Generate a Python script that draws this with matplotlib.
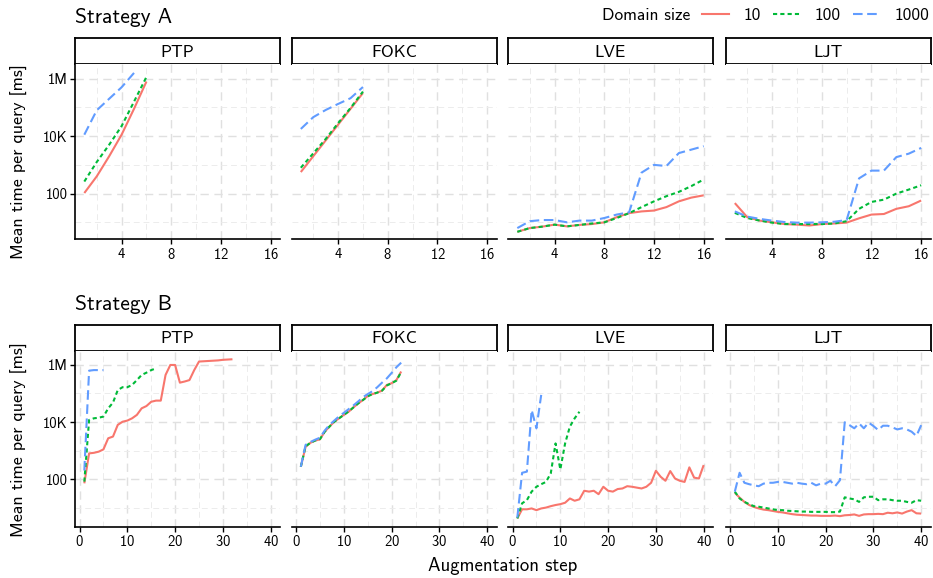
import numpy as np
import matplotlib
matplotlib.use('Agg')
import matplotlib.pyplot as plt
from matplotlib.lines import Line2D
from matplotlib.ticker import FixedLocator, NullFormatter

plt.rcParams['font.family'] = ['cmss10', 'DejaVu Sans']
plt.rcParams['axes.formatter.use_mathtext'] = True

W, H = 933, 578

algorithms = ['PTP', 'FOKC', 'LVE', 'LJT']
domain_sizes = ['10', '100', '1000']
colors = ['#F8766D', '#00BA38', '#619CFF']
styles = ['-', (0, (2.0, 1.5)), (0, (4.6, 2.2))]

ytick_vals = [1e2, 1e4, 1e6]
ytick_labels = ['100', '10K', '1M']

# log10 of mean time per query [ms]; index = augmentation step - 1
# Strategy A
a_ptp_10 = [2.02, 2.6, 3.3, 4.05, 4.95, 5.9]
a_ptp_100 = [2.42, 3.1, 3.7, 4.35, 5.2, 6.06]
a_ptp_1000 = [4.05, 4.9, 5.3, 5.7, 6.2]
a_fokc_10 = [2.75, 3.3, 3.85, 4.4, 4.95, 5.5]
a_fokc_100 = [2.9, 3.4, 3.9, 4.45, 4.98, 5.55]
a_fokc_1000 = [4.25, 4.66, 4.91, 5.12, 5.32, 5.71]
a_lve_10 = [0.67, 0.8, 0.85, 0.92, 0.86, 0.91, 0.94, 1.0, 1.18, 1.32, 1.38, 1.41, 1.53, 1.73, 1.86, 1.94]
a_lve_100 = [0.67, 0.8, 0.85, 0.92, 0.86, 0.91, 0.96, 1.0, 1.15, 1.32, 1.53, 1.73, 1.91, 2.06, 2.26, 2.49]
a_lve_1000 = [0.8, 1.04, 1.08, 1.08, 1.0, 1.06, 1.06, 1.15, 1.27, 1.35, 2.73, 3.0, 2.96, 3.41, 3.53, 3.65]
a_ljt_10 = [1.67, 1.18, 1.06, 1.0, 0.94, 0.92, 0.89, 0.94, 0.96, 0.99, 1.14, 1.27, 1.29, 1.47, 1.56, 1.76]
a_ljt_100 = [1.33, 1.15, 1.06, 0.99, 0.94, 0.94, 0.94, 0.94, 0.96, 1.04, 1.47, 1.71, 1.79, 2.0, 2.14, 2.29]
a_ljt_1000 = [1.38, 1.2, 1.12, 1.06, 1.01, 0.99, 0.99, 1.0, 1.02, 1.08, 2.53, 2.8, 2.8, 3.27, 3.39, 3.59]

# Strategy B
b_ptp_10 = [1.85, 2.9, 2.92, 2.96, 3.04, 3.43, 3.49, 3.9, 4.01, 4.05, 4.13, 4.25, 4.48, 4.56, 4.71, 4.75,
            4.75, 5.65, 6.0, 6.0, 5.38, 5.42, 5.47, 5.82, 6.12, 6.13, 6.14, 6.15, 6.16, 6.18, 6.19, 6.2]
b_ptp_100 = [1.91, 4.07, 4.13, 4.15, 4.19, 4.48, 4.68, 5.12, 5.22, 5.22, 5.3, 5.47, 5.65, 5.73, 5.82, 5.88]
b_ptp_1000 = [2.3, 5.8, 5.82, 5.82, 5.82]
b_fokc_10 = [2.43, 3.13, 3.27, 3.35, 3.39, 3.66, 3.84, 4.01, 4.13, 4.25, 4.36, 4.51, 4.65, 4.77, 4.91, 4.98,
             5.03, 5.1, 5.3, 5.36, 5.47, 5.77]
b_fokc_100 = [2.43, 3.15, 3.27, 3.35, 3.4, 3.66, 3.84, 4.01, 4.13, 4.25, 4.37, 4.51, 4.65, 4.77, 4.9, 4.98,
              5.03, 5.1, 5.28, 5.36, 5.45, 5.75]
b_fokc_1000 = [2.43, 3.2, 3.3, 3.38, 3.45, 3.7, 3.9, 4.05, 4.2, 4.32, 4.45, 4.58, 4.72, 4.87, 4.98, 5.08,
               5.22, 5.38, 5.53, 5.72, 5.92, 6.08]
b_lve_10 = [0.62, 0.94, 0.94, 0.97, 0.91, 0.97, 1.0, 1.05, 1.09, 1.12, 1.17, 1.32, 1.24, 1.29, 1.59, 1.56,
            1.59, 1.47, 1.73, 1.59, 1.56, 1.65, 1.67, 1.75, 1.73, 1.7, 1.67, 1.73, 1.87, 2.29, 2.08, 1.94,
            2.28, 2.02, 1.94, 1.9, 2.41, 2.05, 2.02, 2.49]
b_lve_100 = [0.62, 1.15, 1.26, 1.56, 1.73, 1.82, 1.9, 2.2, 3.25, 2.34, 3.25, 3.84, 4.13, 4.36]
b_lve_1000 = [0.65, 2.22, 2.26, 4.42, 3.78, 4.95]
b_ljt_10 = [1.52, 1.35, 1.2, 1.09, 1.02, 0.97, 0.93, 0.91, 0.88, 0.85, 0.83, 0.8, 0.77, 0.75, 0.74, 0.73,
            0.72, 0.72, 0.71, 0.71, 0.71, 0.72, 0.7, 0.73, 0.74, 0.76, 0.71, 0.76, 0.77, 0.77, 0.78, 0.77,
            0.82, 0.8, 0.83, 0.79, 0.86, 0.91, 0.8, 0.79]
b_ljt_100 = [1.56, 1.32, 1.2, 1.12, 1.05, 1.03, 1.0, 0.97, 0.94, 0.91, 0.91, 0.89, 0.88, 0.87, 0.86, 0.86,
             0.85, 0.85, 0.85, 0.85, 0.84, 0.84, 0.86, 1.36, 1.32, 1.29, 1.2, 1.36, 1.38, 1.38, 1.26, 1.29,
             1.29, 1.26, 1.24, 1.24, 1.2, 1.17, 1.26, 1.24]
b_ljt_1000 = [1.56, 2.22, 1.87, 1.82, 1.78, 1.75, 1.84, 1.87, 1.87, 1.9, 1.9, 1.87, 1.84, 1.87, 1.84, 1.82,
              1.87, 1.78, 1.84, 1.84, 1.94, 1.75, 1.96, 3.99, 3.89, 3.78, 3.95, 3.78, 3.98, 3.86, 3.72, 3.87,
              3.87, 3.81, 3.74, 3.78, 3.74, 3.66, 3.51, 3.89]

strategy_a = [[a_ptp_10, a_ptp_100, a_ptp_1000],
              [a_fokc_10, a_fokc_100, a_fokc_1000],
              [a_lve_10, a_lve_100, a_lve_1000],
              [a_ljt_10, a_ljt_100, a_ljt_1000]]
strategy_b = [[b_ptp_10, b_ptp_100, b_ptp_1000],
              [b_fokc_10, b_fokc_100, b_fokc_1000],
              [b_lve_10, b_lve_100, b_lve_1000],
              [b_ljt_10, b_ljt_100, b_ljt_1000]]

fig = plt.figure(figsize=(W / 100, H / 100), dpi=100)
fig.patch.set_facecolor('white')


def px_axes(x0, y0, x1, y1):
    return fig.add_axes([x0 / W, 1 - y1 / H, (x1 - x0) / W, (y1 - y0) / H])


def grid_style(ax):
    ax.grid(True, which='major', color='#e0e0e0', lw=1.0, ls=(0, (6, 4)))
    ax.grid(True, which='minor', color='#ececec', lw=0.7, ls=(0, (6, 4)))
    ax.set_axisbelow(True)


def draw_row(data, title, strip_top, panel_top, panel_bottom, xlim, xmajor, xminor, ylim):
    lefts = [75, 291.5, 508, 725.5]
    width = 205
    fig.text(75 / W, 1 - (strip_top - 21) / H, title, fontsize=15.5, ha='left', va='center')
    for i, name in enumerate(algorithms):
        x0 = lefts[i]
        strip = px_axes(x0, strip_top, x0 + width, panel_top)
        strip.set_xticks([])
        strip.set_yticks([])
        for s in strip.spines.values():
            s.set_linewidth(1.3)
        strip.text(0.5, 0.47, name, ha='center', va='center', fontsize=12.5, transform=strip.transAxes)

        ax = px_axes(x0, panel_top, x0 + width, panel_bottom)
        for j, vals in enumerate(data[i]):
            steps = np.arange(1, len(vals) + 1)
            ax.plot(steps, np.power(10.0, vals), color=colors[j], ls=styles[j], lw=1.5,
                    solid_capstyle='butt', dash_capstyle='butt')
        ax.set_yscale('log')
        ax.set_ylim(10 ** ylim[0], 10 ** ylim[1])
        ax.set_xlim(*xlim)
        ax.xaxis.set_major_locator(FixedLocator(xmajor))
        ax.xaxis.set_minor_locator(FixedLocator(xminor))
        ax.yaxis.set_major_locator(FixedLocator(ytick_vals))
        ax.yaxis.set_minor_locator(FixedLocator([1e1, 1e3, 1e5]))
        ax.yaxis.set_minor_formatter(NullFormatter())
        ax.tick_params(which='minor', length=0)
        ax.tick_params(which='major', length=3.5, width=1.0, labelsize=10.5, pad=2, colors='black')
        grid_style(ax)
        ax.spines['top'].set_visible(False)
        ax.spines['right'].set_visible(False)
        ax.spines['bottom'].set_linewidth(1.2)
        ax.spines['left'].set_linewidth(1.2)
        if i == 0:
            ax.set_yticklabels(ytick_labels)
        else:
            ax.spines['left'].set_visible(False)
            ax.tick_params(axis='y', which='both', left=False, labelleft=False)


draw_row(strategy_a, 'Strategy A', 38.3, 64.3, 239, (0.25, 16.75), [4, 8, 12, 16], [2, 6, 10, 14],
         (0.42, 6.5))
draw_row(strategy_b, 'Strategy B', 325, 350.7, 526.7, (-0.95, 41.95), [0, 10, 20, 30, 40],
         [5, 15, 25, 35], (0.33, 6.5))

fig.text(19 / W, 1 - 162 / H, 'Mean time per query [ms]', rotation=90, ha='center', va='center', fontsize=13)
fig.text(19 / W, 1 - 440 / H, 'Mean time per query [ms]', rotation=90, ha='center', va='center', fontsize=13)
fig.text(503 / W, 1 - 566 / H, 'Augmentation step', ha='center', va='center', fontsize=13.5)

# legend
handles = [Line2D([], [], color=c, ls=s, lw=1.5) for c, s in zip(colors, styles)]
fig.text(690 / W, 1 - 15 / H, 'Domain size', ha='right', va='center', fontsize=12.5)
fig.legend(handles, domain_sizes, ncol=3, loc='center right', bbox_to_anchor=(929 / W, 1 - 15 / H),
           frameon=False, fontsize=12.5, handlelength=1.55, handletextpad=0.8, columnspacing=0.75,
           borderpad=0, borderaxespad=0)

fig.savefig('out.png', dpi=100)
